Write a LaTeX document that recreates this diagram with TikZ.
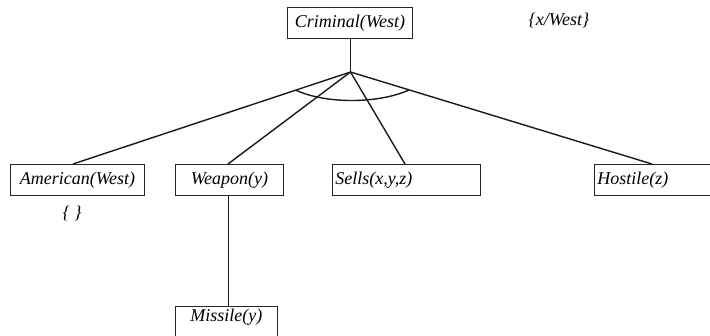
\documentclass[tikz,border=0pt]{standalone}
\usepackage{fontspec}
\setmainfont{Liberation Serif}
\newfontfamily\timesit{Liberation Serif Italic}
\usetikzlibrary{calc}
\begin{document}
\begin{tikzpicture}[x=1pt,y=-1pt,
  box/.style={draw=black!85, line width=0.9pt, anchor=north west, inner sep=0pt,
    minimum height=31pt, font=\fontsize{18}{20}\timesit},
  lbl/.style={font=\fontsize{18}{20}\timesit, inner sep=0pt},
  edge/.style={line width=1.4pt, black!90}]
\useasboundingbox (0,0) rectangle (710,335);
\node[box, minimum width=125pt] (crim) at (287,7) {Criminal(West)};
\node[lbl] (subst) at (559,20) {\{x/West\}};
\node[box, minimum width=134pt] (amer) at (10,164) {American(West)};
\node[lbl] (empty) at (72,213) {\{ \}};
\node[box, minimum width=108pt] (weap) at (175,164) {Weapon(y)};
\node[box, minimum width=148pt, text width=146pt, align=left] (sells) at (332,164) {\hspace*{2pt}Sells(x,y,z)};
\node[box, minimum width=140pt, text width=138pt, align=left] (host) at (594,164) {\hspace*{2pt}Hostile(z)};
\node[box, minimum width=102pt, minimum height=40pt] (miss) at (175,306) {\raisebox{0pt}[0pt][0pt]{\raisebox{4.5pt}{Missile(y)}}};
\coordinate (apex) at (350.5,72);
\draw[edge, line width=1.1pt] (crim.south -| apex) -- (apex);
\draw[edge] (apex) -- ($(amer.north west)+(63,0)$);
\draw[edge] (apex) -- ($(weap.north west)+(53,0)$);
\draw[edge] (apex) -- ($(sells.north west)+(73,0)$);
\draw[edge] (apex) -- ($(host.north west)+(58,0)$);
\draw[edge, line width=1.1pt] ($(weap.south west)+(53.5,0)$) -- ($(miss.north west)+(53.5,0)$);
\draw[edge] (295.5,90) .. controls (325,104) and (378,104) .. (409,90);
\end{tikzpicture}
\end{document}
